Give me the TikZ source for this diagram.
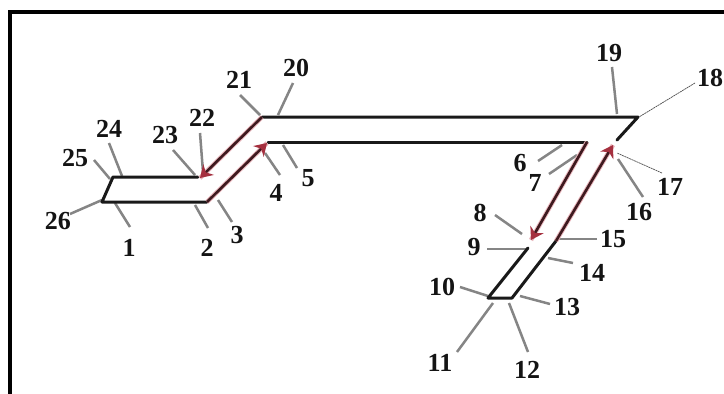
\documentclass[tikz,border=0pt]{standalone}
\usepackage{fontspec}
\setmainfont{Liberation Serif}
\usetikzlibrary{arrows.meta}
\definecolor{leadgray}{HTML}{858585}
\definecolor{wine}{HTML}{3E1A1F}
\definecolor{halo}{HTML}{E8B4BA}
\definecolor{tipred}{HTML}{A5303F}
\tikzset{
  wall/.style={draw=black!90,line width=3pt,line cap=round,line join=round},
  leader/.style={draw=leadgray,line width=2.5pt},
  thinlead/.style={draw=black!70,line width=0.7pt,dash pattern=on 2pt off 0.6pt},
  num/.style={font=\bfseries\fontsize{26}{26}\selectfont,inner sep=0pt,text=black!92},
  halostroke/.style={draw=halo,line width=4.5pt},
  flow/.style={draw=wine,line width=2.6pt,-{Stealth[length=12pt,width=15pt,color=tipred]}},
  frameline/.style={draw=black,line width=4pt}
}
\newcommand{\lab}[5][leader]{%
  \node[num] (n#2) at (#3) {#2};
  \coordinate (a#2) at (#4);
  \coordinate (b#2) at (#5);
  \draw[#1] (a#2) -- (b#2);
}
\begin{document}
\begin{tikzpicture}[x=1pt,y=-1pt]
\useasboundingbox (0,0) rectangle (724,394);
\fill[white] (0,0) rectangle (724,394);
\coordinate (fa) at (10,394);
\coordinate (fb) at (10,12);
\coordinate (fc) at (724,12);
\draw[frameline] (fa) -- (fb) -- (fc);
% channel vertices
\coordinate (v26) at (102,202);
\coordinate (v2) at (207,202);
\coordinate (v4) at (267,143);
\coordinate (v5) at (268,142);
\coordinate (v6) at (587,142);
\coordinate (v8) at (531,240);
\coordinate (v9) at (528,248);
\coordinate (v10) at (488,298);
\coordinate (v13) at (512,298);
\coordinate (v15) at (556,241);
\coordinate (v17) at (613,145);
\coordinate (v17b) at (617,140);
\coordinate (v18) at (638,117);
\coordinate (v21) at (262,117);
\coordinate (v22) at (200,178);
\coordinate (v23) at (198,177);
\coordinate (v25) at (113,177);
% leaders and numbers
\lab{1}{129,248}{115,203}{130,227}
\lab{2}{207,248}{195,205}{208,228}
\lab{3}{237,235}{218,200}{232,222}
\lab{4}{276,193}{265,153}{280,175}
\lab{5}{308,178}{283,145}{297,168}
\lab{6}{520,163}{562,145}{538,161}
\lab{7}{535,183}{577,155}{549,174}
\lab{8}{480,213}{495,215}{522,234}
\lab{9}{474,247}{487,249}{527,249}
\lab{10}{442,287}{460,287}{488,296}
\lab{11}{440,363}{457,352}{493,303}
\lab{12}{527,370}{528,352}{509,303}
\lab{13}{567,307}{550,304}{520,296}
\lab{14}{592,273}{573,263}{548,258}
\lab{15}{613,239}{597,239}{558,239}
\lab{16}{639,212}{643,197}{618,159}
\lab[thinlead]{17}{670,187}{662,173}{617,153}
\lab[thinlead]{18}{710,78}{695,83}{639,117}
\lab{19}{609,53}{612,67}{617,114}
\lab{20}{296,68}{293,83}{278,115}
\lab{21}{239,80}{240,95}{260,115}
\lab{22}{202,118}{200,133}{203,172}
\lab{23}{165,135}{173,150}{195,175}
\lab{24}{109,129}{109,143}{122,176}
\lab{25}{75,158}{94,160}{110,179}
\lab{26}{58,221}{70,214}{102,200}
% walls
\draw[wall] (v5) -- (v6);
\draw[wall] (v9) -- (v10) -- (v13) -- (v15);
\draw[wall] (v17b) -- (v18) -- (v21);
\draw[wall] (v23) -- (v25) -- (v26) -- (v2);
% flow arrows
\draw[halostroke] (v2) -- (v4);
\draw[halostroke] (v21) -- (v22);
\draw[halostroke] (v6) -- (v8);
\draw[halostroke] (v15) -- (v17);
\draw[flow] (v2) -- (v4);
\draw[flow] (v21) -- (v22);
\draw[flow] (v6) -- (v8);
\draw[flow] (v15) -- (v17);
\end{tikzpicture}
\end{document}
